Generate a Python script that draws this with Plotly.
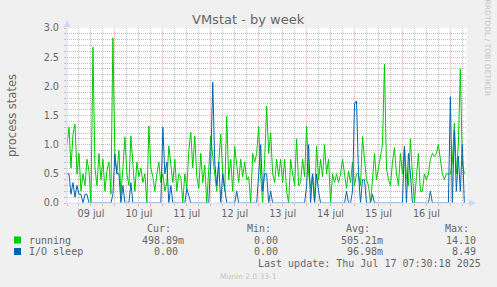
import pandas as pd
import plotly.graph_objects as go

# ---------------- data (hourly averages) ----------------
running_jul09 = [1.0, 1.3, 0.6, 1.18, 1.35, 0.5, 0.85, 0.2, 0.5, 0.3, 0.75, 0.55,
                 0.0, 2.67, 0.6, 0.3, 0.85, 0.4, 0.75, 0.2, 0.55, 0.7, 0.15, 2.83]
running_jul10 = [0.75, 0.5, 0.9, 0.15, 0.6, 1.13, 0.5, 0.3, 1.15, 0.65, 0.2, 0.7,
                 0.45, 0.6, 0.35, 0.5, 0.0, 1.32, 0.6, 0.45, 0.2, 0.5, 0.7, 0.35]
running_jul11 = [0.5, 0.2, 0.35, 0.98, 0.6, 0.35, 0.75, 0.2, 0.5, 0.45, 0.0, 0.5,
                 0.25, 0.9, 1.21, 0.6, 1.15, 0.45, 0.25, 0.85, 0.35, 0.65, 0.0, 0.5]
running_jul12 = [1.15, 0.8, 0.5, 0.2, 0.7, 1.18, 0.5, 0.2, 1.49, 0.4, 0.75, 0.2,
                 0.97, 0.65, 0.35, 0.75, 0.45, 0.7, 0.4, 0.45, 0.0, 0.85, 0.7, 0.85]
running_jul13 = [1.31, 0.45, 0.0, 0.75, 1.66, 0.85, 1.2, 0.5, 0.35, 0.75, 0.45, 0.75,
                 0.35, 0.75, 0.2, 0.0, 0.75, 0.5, 0.3, 1.1, 0.3, 0.35, 0.75, 0.45]
running_jul14 = [1.32, 0.5, 0.25, 0.5, 0.0, 0.98, 0.4, 0.75, 0.45, 1.0, 0.5, 0.75,
                 0.0, 0.5, 0.35, 0.5, 0.35, 0.5, 0.75, 0.5, 0.25, 0.55, 0.35, 0.7]
running_jul15 = [0.3, 0.5, 0.5, 0.3, 1.14, 0.75, 0.4, 0.3, 0.0, 0.4, 0.85, 0.4,
                 0.6, 0.75, 1.0, 2.38, 0.6, 0.4, 0.3, 0.7, 0.95, 0.5, 0.3, 0.85]
running_jul16 = [0.5, 0.97, 0.45, 0.3, 1.1, 0.5, 0.0, 0.45, 0.85, 0.2, 0.2, 0.5,
                 0.4, 0.5, 0.75, 0.85, 0.8, 0.85, 1.0, 0.75, 0.5, 0.4, 0.5, 0.5]
running_jul17 = [0.5, 0.7, 1.37, 0.5, 1.0, 2.3, 0.7, 0.5]

iosleep_jul09 = [0.5, 0.5, 0.15, 0.35, 0.1, 0.3, 0.15, 0.15, 0.0, 0.15, 0.15, 0.0,
                 0, 0, 0, 0, 0, 0, 0, 0, 0, 0, 0.0, 0.15]
iosleep_jul10 = [0.84, 0.5, 0.5, 0.0, 0.3, 0.0, 0.0, 0.0, 0.35, 0.0, 0, 0,
                 0, 0, 0, 0, 0, 0, 0, 0, 0, 0, 0, 0.0]
iosleep_jul11 = [1.3, 0.5, 0.7, 0.0, 0.3, 0.0, 0, 0, 0, 0, 0, 0,
                 0.25, 0.1, 0, 0, 0, 0, 0, 0, 0, 0, 0, 0.0]
iosleep_jul12 = [0.7, 2.07, 0.7, 0.3, 0.7, 0.0, 0.5, 0.25, 0.0, 0, 0, 0,
                 0, 0.2, 0, 0, 0, 0, 0, 0, 0, 0, 0, 0.0]
iosleep_jul13 = [0.5, 1.0, 0.2, 0.5, 0.5, 0.0, 0.2, 0, 0, 0, 0, 0,
                 0, 0, 0, 0, 0, 0, 0, 0, 0, 0, 0, 0.0]
iosleep_jul14 = [0.3, 1.0, 0.0, 0.5, 0.0, 0.5, 0.2, 0.0, 0, 0, 0, 0,
                 0, 0, 0, 0, 0, 0, 0, 0, 0.2, 0.0, 0.0, 0.2]
iosleep_jul15 = [1.7, 1.75, 0.5, 0.0, 0.4, 0.4, 0.0, 0, 0, 0.15, 0, 0,
                 0, 0, 0, 0, 0, 0, 0, 0, 0, 0, 0, 0.0]
iosleep_jul16 = [0.0, 0.97, 0.0, 0.85, 0.5, 0.0, 0, 0, 0, 0, 0, 0,
                 0, 0, 0.2, 0, 0, 0, 0, 0, 0, 0, 0, 0.0]
iosleep_jul17 = [1.82, 0.0, 1.25, 0.2, 0.8, 0.2, 1.0, 0.0]

running = (running_jul09 + running_jul10 + running_jul11 + running_jul12 + running_jul13
           + running_jul14 + running_jul15 + running_jul16 + running_jul17)
iosleep = (iosleep_jul09 + iosleep_jul10 + iosleep_jul11 + iosleep_jul12 + iosleep_jul13
           + iosleep_jul14 + iosleep_jul15 + iosleep_jul16 + iosleep_jul17)

day_labels = ["09 jul", "10 jul", "11 jul", "12 jul", "13 jul", "14 jul", "15 jul", "16 jul"]
series_names = ["running", "I/O sleep"]
cur_vals = ["498.89m", "0.00"]
min_vals = ["0.00", "0.00"]
avg_vals = ["505.21m", "96.98m"]
max_vals = ["14.10", "8.49"]

times = pd.date_range("2025-07-09 00:00", periods=len(running), freq="h")
label_times = pd.date_range("2025-07-09 12:00", periods=len(day_labels), freq="D")
x_range = ["2025-07-09 00:00", "2025-07-17 08:20"]

# ---------------- style ----------------
W, H = 497, 287
L, T, PW, PH = 67, 28, 400, 175
GREEN, BLUE = "#00CC00", "#0066B3"
FONTC = "#666666"
AXISC = "#CFD6F8"
MGRID = "rgba(225,150,150,0.75)"
GRID = "#BDBDBD"
SANS = "DejaVu Sans"
MONO = "DejaVu Sans Mono"
DOT = "1px,1px"


def px(x):
    return (x - L) / PW


def py(y):
    return (T + PH - y) / PH


fig = go.Figure()
fig.add_trace(go.Scatter(x=times, y=running, mode="lines", name="running",
                         line=dict(color=GREEN, width=1), showlegend=False))
fig.add_trace(go.Scatter(x=times, y=iosleep, mode="lines", name="I/O sleep",
                         line=dict(color=BLUE, width=1), showlegend=False))
fig.add_trace(go.Scatter(x=[], y=[], xaxis="x2", showlegend=False, hoverinfo="skip"))

fig.update_layout(
    width=W, height=H,
    margin=dict(l=L, r=W - L - PW, t=T, b=H - T - PH, pad=0),
    paper_bgcolor="#F0F0F0", plot_bgcolor="#FFFFFF",
    font=dict(family=SANS, size=10, color=FONTC),
    xaxis=dict(type="date", range=x_range, tickmode="linear", tick0="2025-07-09 00:00",
               dtick=86400000, showticklabels=False, showgrid=True, gridcolor=MGRID,
               griddash=DOT, gridwidth=1, ticks="outside", ticklen=2, tickcolor=MGRID,
               showline=False, zeroline=False, layer="below traces",
               minor=dict(tick0="2025-07-09 00:00", dtick=21600000, showgrid=True,
                          gridcolor=GRID, griddash=DOT, gridwidth=1, ticks="outside",
                          ticklen=2, tickcolor=GRID)),
    xaxis2=dict(type="date", range=x_range, overlaying="x", anchor="y", side="bottom",
                tickmode="array", tickvals=label_times, ticktext=day_labels,
                showgrid=False, ticks="", showline=False, zeroline=False,
                tickfont=dict(family=SANS, size=9.7, color=FONTC), ticklabelstandoff=3),
    yaxis=dict(range=[0, 3], tickmode="linear", tick0=0, dtick=0.5, tickformat=".1f",
               showgrid=True, gridcolor=MGRID, griddash=DOT, gridwidth=1,
               ticks="outside", ticklen=2, tickcolor=MGRID, showline=False, zeroline=False,
               tickfont=dict(family=SANS, size=9.7, color=FONTC), ticklabelstandoff=3,
               minor=dict(tick0=0, dtick=0.1, showgrid=True, gridcolor=GRID, gridwidth=1,
                          griddash=DOT, ticks="outside", ticklen=2, tickcolor=GRID)),
)

shapes = [
    # y axis with arrow
    dict(type="line", xref="paper", yref="paper", x0=0, x1=0, y0=0, y1=py(24),
         line=dict(color=AXISC, width=1)),
    dict(type="path", xref="paper", yref="paper",
         path=f"M {px(63.5)},{py(27)} L {px(67)},{py(20)} L {px(70.5)},{py(27)} Z",
         fillcolor=AXISC, line=dict(color=AXISC, width=0)),
    # x axis with arrow
    dict(type="line", xref="paper", yref="paper", x0=0, x1=px(470), y0=0, y1=0,
         line=dict(color=AXISC, width=1)),
    dict(type="path", xref="paper", yref="paper",
         path=f"M {px(469)},{py(199.5)} L {px(476)},{py(203)} L {px(469)},{py(206.5)} Z",
         fillcolor=AXISC, line=dict(color=AXISC, width=0)),
    # legend swatches
    dict(type="rect", xref="paper", yref="paper", x0=px(14), x1=px(21), y0=py(236.5), y1=py(243.5),
         fillcolor=GREEN, line=dict(width=0)),
    dict(type="rect", xref="paper", yref="paper", x0=px(14), x1=px(21), y0=py(248), y1=py(255),
         fillcolor=BLUE, line=dict(width=0)),
]
fig.update_layout(shapes=shapes)


def ann(text, x, y, size=10, color=FONTC, xanchor="left", family=MONO, angle=0):
    return dict(text=text, x=px(x), y=py(y), xref="paper", yref="paper",
                xanchor=xanchor, yanchor="middle", showarrow=False, textangle=angle,
                font=dict(family=family, size=size, color=color))


anns = [
    ann("VMstat - by week", 248, 19, size=13, xanchor="center", family=SANS),
    ann("process states", 12, 115, size=11.5, xanchor="center", family=SANS, angle=-90),
    ann("RRDTOOL / TOBI OETIKER", 487.5, 48, size=7.5, color="#C4C4C4",
        xanchor="center", family=SANS, angle=90),
    ann("Cur:", 172.5, 228, xanchor="right"),
    ann("Min:", 272.5, 228, xanchor="right"),
    ann("Avg:", 371.5, 228, xanchor="right"),
    ann("Max:", 470.5, 228, xanchor="right"),
    ann("Last update: Thu Jul 17 07:30:18 2025", 482.5, 263.5, xanchor="right"),
    ann("Munin 2.0.33-1", 248, 276.5, size=7.5, color="#C4C4C4", xanchor="center", family=SANS),
]
row_y = [240, 251.5]
for i, name in enumerate(series_names):
    anns.append(ann(name, 26.5, row_y[i], xanchor="left"))
    cur_right = 185.5 if cur_vals[i].endswith("m") else 179.5
    min_right = 285.5 if min_vals[i].endswith("m") else 279.5
    anns.append(ann(cur_vals[i], cur_right, row_y[i], xanchor="right"))
    anns.append(ann(min_vals[i], min_right, row_y[i], xanchor="right"))
    anns.append(ann(avg_vals[i], 384.5, row_y[i], xanchor="right"))
    anns.append(ann(max_vals[i], 477.5, row_y[i], xanchor="right"))
fig.update_layout(annotations=anns)

fig.write_html("out.html")
